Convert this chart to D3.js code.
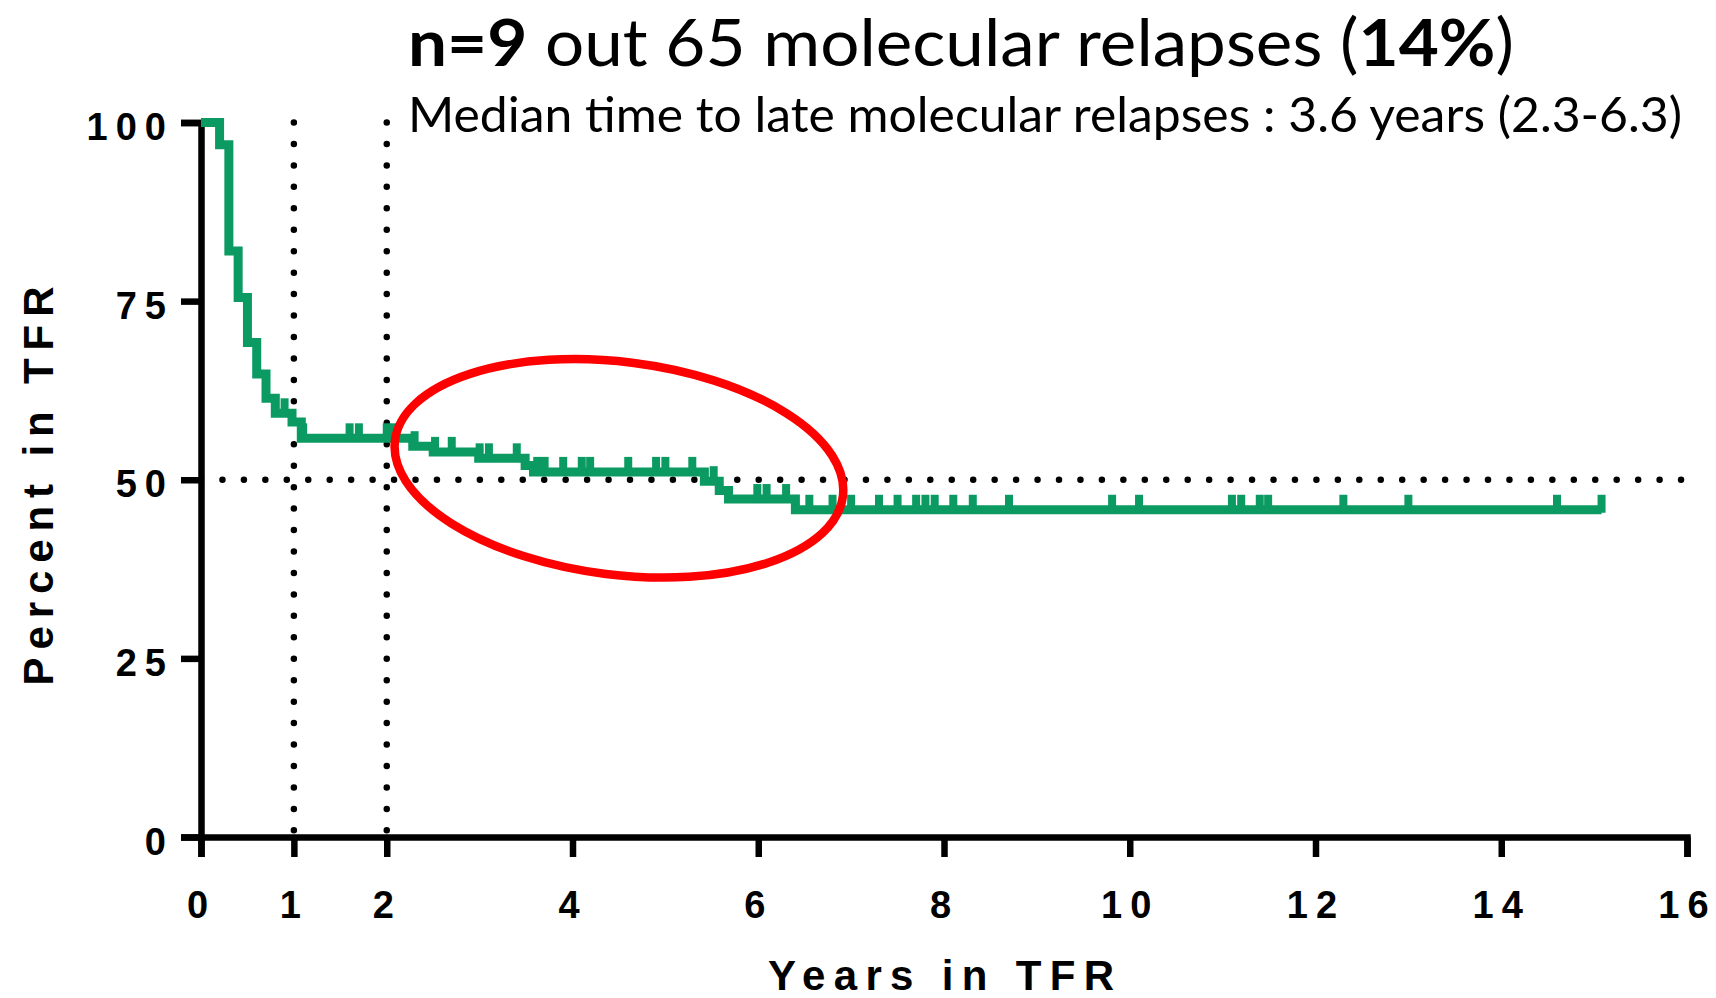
<!DOCTYPE html>
<html>
<head>
<meta charset="utf-8">
<script src="https://cdn.jsdelivr.net/npm/d3@7"></script>
<style>
  html, body { margin: 0; padding: 0; background: #fff; }
  svg { display: block; }
</style>
</head>
<body>
<svg id="chart" width="1716" height="998"></svg>
<script>
// ---- data ----
const stepYears   = [0, 0.2, 0.3, 0.4, 0.5, 0.6, 0.7, 0.8, 0.98, 1.08, 2.28, 2.5, 2.99, 3.49, 3.58, 5.42, 5.58, 5.68, 6.40, 15.08];
const stepPercent = [100, 96.9, 82.0, 75.5, 69.2, 64.8, 61.4, 59.3, 58.1, 55.8, 54.7, 53.9, 53.0, 52.0, 51.1, 49.8, 48.5, 47.3, 45.8, 45.8];
const censoredYears = [0.9, 1.1, 1.6, 1.7, 2.0, 2.07, 2.3, 2.52, 2.7, 3.0, 3.1, 3.4, 3.62, 3.7, 3.9, 4.1, 4.19, 4.6, 4.9, 5.0, 5.29, 5.52,
  5.99, 6.09, 6.30, 6.55, 6.8, 7.0, 7.3, 7.5, 7.7, 7.8, 7.9, 8.1, 8.31, 8.7, 9.81, 10.1, 11.1, 11.2, 11.4, 11.49, 12.3, 13.0, 14.6, 15.08];
const xTickValues = [0, 1, 2, 4, 6, 8, 10, 12, 14, 16];
const yTickValues = [0, 25, 50, 75, 100];
const referenceYears = [1, 2];
const referencePercent = [50];
const highlightCenter = [4.5, 51.6];   // years, percent
const highlightRadii  = [2.43, 14.9];  // years, percent
const titleParts = [["n=9", true], [" out 65 molecular relapses (", false], ["14%", true], [")", false]];
const subtitleText = "Median time to late molecular relapses : 3.6 years (2.3-6.3)";
const xTitle = "Years in TFR";
const yTitle = "Percent in TFR";

// ---- layout ----
const svg = d3.select("#chart");
const x = d3.scaleLinear().domain([0, 16]).range([201, 1687]);
const y = d3.scaleLinear().domain([0, 100]).range([837, 122.5]);
const green = "#0b9a62";

// reference dotted lines
const dotted = svg.append("g")
  .attr("stroke", "#000").attr("stroke-width", 6.5)
  .attr("stroke-linecap", "round").attr("stroke-dasharray", "0 21.45");
referenceYears.forEach(v => {
  dotted.append("line").attr("x1", x(v)).attr("x2", x(v)).attr("y1", y(100)).attr("y2", y(0));
});
referencePercent.forEach(v => {
  dotted.append("line").attr("x1", x(0)).attr("x2", x(16)).attr("y1", y(v)).attr("y2", y(v));
});

// axes
const xAxis = svg.append("g").attr("transform", `translate(0,${y(0)})`)
  .call(d3.axisBottom(x).tickValues(xTickValues).tickSize(20).tickSizeOuter(20).tickFormat(d3.format("d")));
const yAxis = svg.append("g").attr("transform", `translate(${x(0)},0)`)
  .call(d3.axisLeft(y).tickValues(yTickValues).tickSize(20).tickSizeOuter(20).tickFormat(d3.format("d")));
[xAxis, yAxis].forEach(g => {
  g.selectAll("path.domain").attr("stroke", "#000").attr("stroke-width", 6.5).attr("fill", "none");
  g.selectAll(".tick line").attr("stroke", "#000").attr("stroke-width", 6.5);
  g.selectAll("text")
    .attr("fill", "#000")
    .style("font-family", "'Liberation Sans', Arial, sans-serif")
    .style("font-weight", "bold")
    .style("font-size", "38px")
    .style("letter-spacing", "8px");
});
xAxis.selectAll("text").attr("y", 81).attr("dy", 0);
yAxis.selectAll("text").attr("x", -27).attr("dy", "17px");

// KM curve
const curvePts = stepYears.map((t, i) => [t, stepPercent[i]]);
const line = d3.line().x(d => x(d[0])).y(d => y(d[1])).curve(d3.curveStepAfter);
svg.append("path").datum(curvePts)
  .attr("d", line).attr("fill", "none").attr("stroke", green)
  .attr("stroke-width", 9).attr("stroke-linejoin", "miter").attr("stroke-linecap", "butt");

function levelAt(t) {
  let v = stepPercent[0];
  for (let i = 0; i < stepYears.length; i++) if (stepYears[i] <= t) v = stepPercent[i];
  return v;
}
svg.append("g").selectAll("line").data(censoredYears).join("line")
  .attr("x1", d => x(d)).attr("x2", d => x(d))
  .attr("y1", d => y(levelAt(d)) + 3).attr("y2", d => y(levelAt(d)) - 15)
  .attr("stroke", green).attr("stroke-width", 8);

// highlight ellipse
const cx = x(highlightCenter[0]), cy = y(highlightCenter[1]);
svg.append("ellipse")
  .attr("cx", cx).attr("cy", cy)
  .attr("rx", x(highlightRadii[0]) - x(0)).attr("ry", y(0) - y(highlightRadii[1]))
  .attr("transform", `rotate(7.1 ${cx} ${cy})`)
  .attr("fill", "none").attr("stroke", "#ff0000").attr("stroke-width", 8.5);

// axis titles
svg.append("text").text(xTitle)
  .attr("x", 941).attr("y", 990).attr("text-anchor", "middle")
  .attr("textLength", 346).attr("lengthAdjust", "spacing")
  .style("font-family", "'Liberation Sans', Arial, sans-serif")
  .style("font-weight", "bold").style("font-size", "42px");
svg.append("text").text(yTitle)
  .attr("transform", "translate(53,486) rotate(-90)").attr("text-anchor", "middle")
  .attr("textLength", 399).attr("lengthAdjust", "spacing")
  .style("font-family", "'Liberation Sans', Arial, sans-serif")
  .style("font-weight", "bold").style("font-size", "42px");

// title + subtitle
const title = svg.append("text")
  .attr("x", 408).attr("y", 66)
  .attr("textLength", 1106).attr("lengthAdjust", "spacingAndGlyphs")
  .style("font-family", "Lato, 'Open Sans', sans-serif").style("font-size", "65px");
titleParts.forEach(([t, b]) => {
  title.append("tspan").text(t).style("font-weight", b ? "bold" : "normal");
});
svg.append("text").text(subtitleText)
  .attr("x", 408).attr("y", 132)
  .attr("textLength", 1274).attr("lengthAdjust", "spacingAndGlyphs")
  .style("font-family", "Lato, 'Open Sans', sans-serif").style("font-size", "49px");
</script>
</body>
</html>
